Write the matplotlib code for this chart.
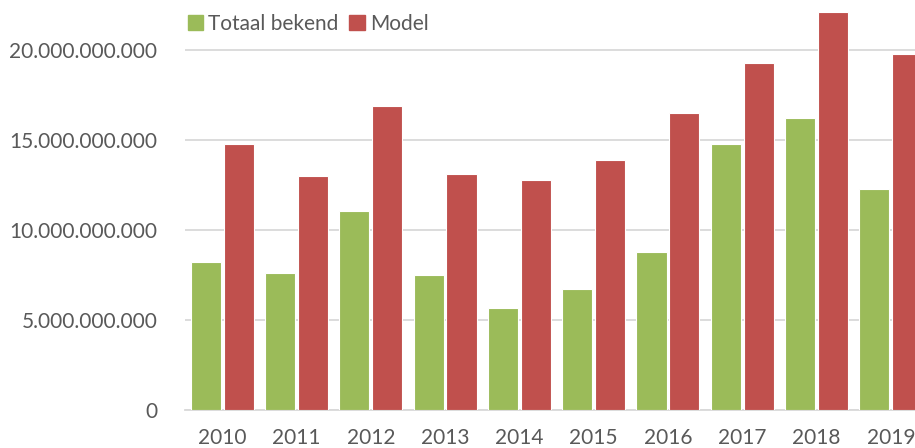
import matplotlib.pyplot as plt
import numpy as np
from matplotlib.patches import Patch
from matplotlib.ticker import FuncFormatter

years = ["2010", "2011", "2012", "2013", "2014", "2015", "2016", "2017", "2018", "2019"]
totaal_bekend = [8.22e9, 7.6e9, 11.05e9, 7.5e9, 5.67e9, 6.7e9, 8.8e9, 14.8e9, 16.2e9, 12.3e9]
model = [14.8e9, 13.0e9, 16.9e9, 13.1e9, 12.8e9, 13.9e9, 16.5e9, 19.3e9, 22.1e9, 19.8e9]

green = "#9BBB59"
red = "#C0504D"
text_col = "#595959"
grid_col = "#D9D9D9"

plt.rcParams["font.family"] = ["Lato", "DejaVu Sans"]

W, H = 915, 448
fig = plt.figure(figsize=(W / 100, H / 100), dpi=100)
# plot area runs past the right edge of the picture (as in the reference)
ax = fig.add_axes([185 / W, (H - 410) / H, 743 / W, 410 / H])

x = np.arange(len(years))
off = 0.222
bw = 0.405
ax.bar(x - off, totaal_bekend, bw, color=green, edgecolor="white", linewidth=0.8, zorder=3)
ax.bar(x + off, model, bw, color=red, edgecolor="white", linewidth=0.8, zorder=3)

ax.set_xlim(-0.5, len(years) - 0.5)
ax.set_ylim(0, 410 / 18 * 1e9)
ax.set_yticks([0, 5e9, 10e9, 15e9, 20e9])
ax.yaxis.set_major_formatter(FuncFormatter(lambda v, p: f"{int(v):,}".replace(",", ".")))
ax.set_xticks(x)
ax.set_xticklabels(years)
ax.tick_params(axis="both", length=0, labelsize=15, colors=text_col)
ax.tick_params(axis="y", pad=20)
ax.tick_params(axis="x", pad=13)

ax.grid(axis="y", color=grid_col, linewidth=1.3, zorder=0)
for s in ["top", "right", "left"]:
    ax.spines[s].set_visible(False)
ax.spines["bottom"].set_color(grid_col)
ax.spines["bottom"].set_linewidth(1.3)

handles = [Patch(color=green, label="Totaal bekend"), Patch(color=red, label="Model")]
leg = fig.legend(handles=handles, loc="upper left", bbox_to_anchor=(174 / W, 1.0),
                 ncol=2, frameon=False, fontsize=15, handlelength=0.75, handleheight=0.75,
                 handletextpad=0.25, columnspacing=0.5, borderpad=0.15)
for t in leg.get_texts():
    t.set_color(text_col)

fig.savefig("out.png", dpi=100)
